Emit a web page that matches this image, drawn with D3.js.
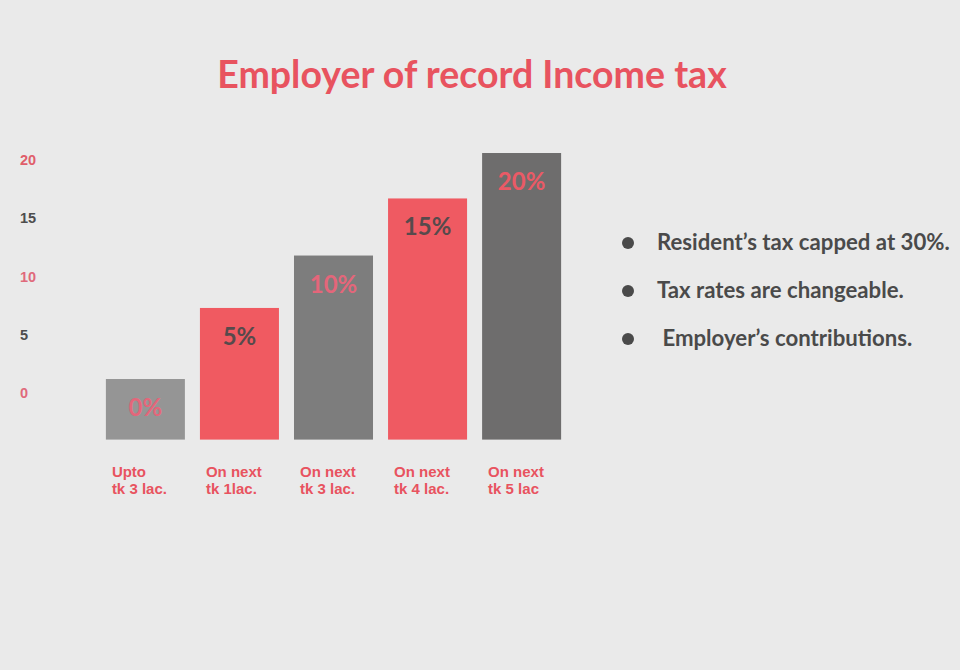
<!DOCTYPE html>
<html>
<head>
<meta charset="utf-8">
<script src="https://cdn.jsdelivr.net/npm/d3@7"></script>
<style>
  html, body { margin: 0; padding: 0; background: #eaeaea; }
  svg { display: block; }
</style>
</head>
<body>
<svg id="chart" width="960" height="670"></svg>
<script>
// ---- data ----
const titleText = "Employer of record Income tax";
const categoriesLine1 = ["Upto", "On next", "On next", "On next", "On next"];
const categoriesLine2 = ["tk 3 lac.", "tk 1lac.", "tk 3 lac.", "tk 4 lac.", "tk 5 lac"];
const rateLabels = ["0%", "5%", "10%", "15%", "20%"];
// bar top as read against the left axis (axis units)
const barTops = [1.2, 7.3, 11.8, 16.7, 20.6];
const barBase = -4.0;
const yTicks = [0, 5, 10, 15, 20];
const notes = ["Resident\u2019s tax capped at 30%.", "Tax rates are changeable.", " Employer\u2019s contributions."];

// ---- styles ----
const barColors = ["#959595", "#f05a61", "#7d7d7d", "#ef5a62", "#6e6d6d"];
const labelColors = ["#e4667a", "#574a4c", "#e4667a", "#574a4c", "#ea5a66"];
const tickColors = { 0: "#e06a7c", 5: "#4d4d4d", 10: "#e06a7c", 15: "#4d4d4d", 20: "#e05e6a" };
const red = "#e8535f";
const dark = "#4a4a4a";

const svg = d3.select("#chart");
svg.append("rect").attr("width", 960).attr("height", 670).attr("fill", "#eaeaea");

// title
svg.append("text")
  .attr("x", 472).attr("y", 88)
  .attr("text-anchor", "middle")
  .attr("font-family", "Lato, 'Open Sans', sans-serif")
  .attr("font-weight", 700)
  .attr("font-size", 37.5)
  .attr("fill", red)
  .text(titleText);

// scales
const y = d3.scaleLinear().domain([0, 20]).range([393, 160]);
const x = d3.scaleBand()
  .domain(d3.range(categoriesLine1.length))
  .range([104, 563])
  .paddingInner(0.16)
  .paddingOuter(0.02);

// axis
const axis = d3.axisLeft(y).tickValues(yTicks).tickSize(0).tickPadding(0);
const gAxis = svg.append("g").attr("transform", "translate(20,0)").call(axis);
gAxis.select(".domain").remove();
gAxis.selectAll("text")
  .attr("text-anchor", "start")
  .attr("x", 0)
  .attr("font-family", "'Liberation Sans', Arial, sans-serif")
  .attr("font-weight", 700)
  .attr("font-size", 14.5)
  .attr("fill", d => tickColors[d]);

// bars
const bars = svg.append("g");
bars.selectAll("rect")
  .data(barTops)
  .join("rect")
  .attr("x", (d, i) => x(i))
  .attr("width", x.bandwidth())
  .attr("y", d => y(d))
  .attr("height", d => y(barBase) - y(d))
  .attr("fill", (d, i) => barColors[i]);

// value labels inside bars
bars.selectAll("text")
  .data(barTops)
  .join("text")
  .attr("x", (d, i) => x(i) + x.bandwidth() / 2)
  .attr("y", d => y(d) + 37)
  .attr("text-anchor", "middle")
  .attr("font-family", "Lato, 'Open Sans', sans-serif")
  .attr("font-weight", 700)
  .attr("font-size", 24)
  .attr("fill", (d, i) => labelColors[i])
  .text((d, i) => rateLabels[i]);

// category labels (two lines)
const cat = svg.append("g");
categoriesLine1.forEach((c, i) => {
  const t = cat.append("text")
    .attr("y", 477)
    .attr("font-family", "'Liberation Sans', Arial, sans-serif")
    .attr("font-weight", 700)
    .attr("font-size", 15)
    .attr("fill", red);
  t.append("tspan").attr("x", x(i) + 6).attr("dy", 0).text(c);
  t.append("tspan").attr("x", x(i) + 6).attr("dy", 17).text(categoriesLine2[i]);
});

// bullet notes
const noteY = d3.scalePoint().domain(d3.range(notes.length)).range([243, 339]);
const gn = svg.append("g");
gn.selectAll("circle")
  .data(notes)
  .join("circle")
  .attr("cx", 628)
  .attr("cy", (d, i) => noteY(i))
  .attr("r", 6)
  .attr("fill", dark);
gn.selectAll("text")
  .data(notes)
  .join("text")
  .attr("x", 657)
  .attr("y", (d, i) => noteY(i) + 7)
  .attr("xml:space", "preserve")
  .style("white-space", "pre")
  .attr("font-family", "Lato, 'Open Sans', sans-serif")
  .attr("font-weight", 700)
  .attr("font-size", 22.2)
  .attr("fill", dark)
  .text(d => d);
</script>
</body>
</html>
